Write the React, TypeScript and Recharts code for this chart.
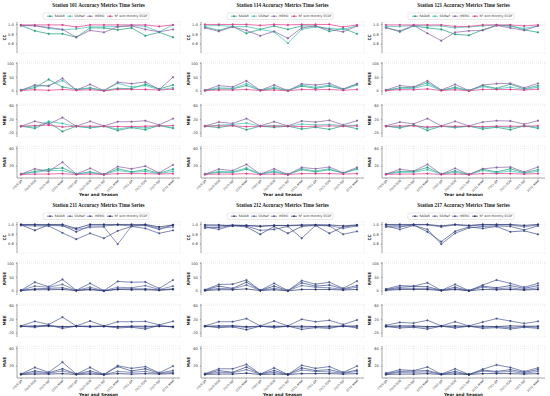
import { LineChart, Line, XAxis, YAxis, CartesianGrid } from 'recharts'

const SEASONS = [
  '2019-JJA', '2019-SON', '2020-DJF', '2020-MAM', '2020-JJA', '2020-SON',
  '2021-DJF', '2021-MAM', '2021-JJA', '2021-SON', '2022-DJF', '2022-MAM',
]
const SERIES = ['RADAR', 'GSMaP', 'IMERG', 'RF with Monthly ECDF']
const METRICS = ['CC', 'RMSE', 'MBE', 'MAE']

const TOP_COLORS = ['#1f9e7a', '#3fbfb0', '#8a63a6', '#e0368a']
const BOTTOM_COLORS = ['#3a4a86', '#5d6ca3', '#4b5894', '#27306a']

// series order in every block: RADAR, GSMaP, IMERG, RF
const S101_CC = [
  [0.98, 0.87, 0.81, 0.81, 0.74, 0.93, 0.93, 0.89, 0.93, 0.77, 0.84, 0.74],
  [0.98, 0.98, 0.92, 0.89, 0.91, 0.95, 0.95, 0.96, 0.98, 0.96, 0.85, 0.99],
  [0.98, 0.97, 0.94, 0.9, 0.74, 0.88, 0.84, 0.95, 0.97, 0.9, 0.85, 0.9],
  [0.99, 0.99, 0.99, 0.99, 0.95, 0.99, 0.99, 0.99, 0.99, 0.99, 0.96, 0.99],
]
const S101_RMSE = [
  [4, 12, 42, 15, 6, 12, 2, 10, 9, 25, 8, 22],
  [3, 18, 20, 38, 5, 10, 2, 28, 15, 20, 5, 12],
  [3, 22, 18, 46, 4, 24, 2, 32, 27, 33, 6, 50],
  [2, 5, 3, 6, 3, 5, 1, 6, 6, 6, 4, 7],
]
const S101_MBE = [
  [0, -6, 11, -15, 0, -5, 0, -12, -4, -10, 2, -6],
  [0, -2, 14, 8, -1, -3, 0, -8, -2, -5, 3, -4],
  [0, 14, 6, 25, 0, 14, 1, 13, 13, 16, 4, 22],
  [0, 2, 3, -2, 0, 0, 0, -1, -1, 0, 1, 2],
]
const S101_MAE = [
  [2, 8, 13, 16, 2, 7, 1, 14, 7, 12, 4, 13],
  [2, 6, 10, 10, 2, 5, 1, 10, 6, 8, 3, 8],
  [2, 14, 8, 29, 2, 15, 1, 19, 14, 20, 5, 23],
  [1, 2, 2, 3, 1, 2, 1, 3, 3, 3, 2, 3],
]

const S114_CC = [
  [0.95, 0.88, 0.96, 0.82, 0.9, 0.97, 0.9, 0.97, 0.97, 0.86, 0.92, 0.81],
  [0.97, 0.98, 0.96, 0.96, 0.9, 0.85, 0.62, 0.9, 0.95, 0.92, 0.9, 0.97],
  [0.93, 0.86, 0.95, 0.88, 0.77, 0.86, 0.72, 0.93, 0.97, 0.9, 0.85, 0.97],
  [1.0, 1.0, 1.0, 1.0, 0.98, 1.0, 0.99, 1.0, 1.0, 1.0, 0.95, 0.99],
]
const S114_RMSE = [
  [3, 8, 8, 20, 3, 10, 2, 18, 10, 18, 6, 24],
  [3, 12, 10, 27, 3, 14, 2, 22, 14, 22, 6, 22],
  [3, 20, 15, 37, 3, 22, 2, 26, 22, 28, 8, 27],
  [2, 4, 4, 6, 2, 4, 1, 6, 5, 6, 3, 6],
]
const S114_MBE = [
  [0, -4, 3, -10, 0, -3, 0, -8, -3, -9, 1, -7],
  [0, 3, 5, 9, 0, 2, 0, 6, 4, 5, 2, 3],
  [1, 12, 8, 22, 1, 13, 1, 15, 12, 17, 4, 16],
  [0, 1, 1, -1, 0, 0, 0, -1, 0, 1, 0, 1],
]
const S114_MAE = [
  [2, 6, 6, 13, 2, 7, 1, 12, 7, 12, 4, 14],
  [2, 8, 7, 16, 2, 9, 1, 14, 9, 14, 4, 13],
  [2, 13, 10, 24, 2, 14, 1, 17, 14, 18, 5, 17],
  [1, 2, 2, 3, 1, 2, 1, 3, 3, 3, 2, 3],
]

const S121_CC = [
  [0.94, 0.85, 0.97, 0.93, 0.9, 0.8, 0.78, 0.89, 0.98, 0.98, 0.89, 0.84],
  [0.96, 0.96, 0.98, 0.97, 0.97, 0.93, 0.95, 0.97, 0.99, 0.96, 0.92, 0.97],
  [0.93, 0.87, 0.98, 0.82, 0.67, 0.84, 0.87, 0.88, 0.98, 0.93, 0.88, 0.97],
  [0.99, 0.99, 0.99, 0.99, 0.99, 0.96, 0.96, 0.99, 0.99, 0.99, 0.97, 0.99],
]
const S121_RMSE = [
  [3, 12, 14, 30, 3, 14, 2, 20, 10, 25, 8, 20],
  [3, 8, 10, 22, 3, 10, 2, 16, 8, 14, 6, 14],
  [4, 20, 15, 37, 4, 24, 2, 22, 27, 28, 12, 28],
  [2, 5, 5, 8, 2, 5, 1, 6, 6, 6, 4, 7],
]
const S121_MBE = [
  [0, -5, 4, -12, 0, -4, 0, -8, -3, -10, 1, -6],
  [0, -2, 3, -5, 0, -2, 0, -4, -1, -4, 1, -3],
  [1, 12, 7, 22, 1, 14, 1, 12, 16, 15, 6, 16],
  [0, 1, 1, -2, 0, 0, 0, -1, 0, 0, 0, 1],
]
const S121_MAE = [
  [2, 8, 8, 17, 2, 9, 1, 13, 7, 14, 5, 12],
  [2, 6, 6, 12, 2, 6, 1, 10, 5, 9, 4, 8],
  [2, 13, 9, 24, 2, 15, 1, 14, 17, 18, 7, 18],
  [1, 2, 2, 3, 1, 2, 1, 3, 3, 3, 2, 3],
]

const S211_CC = [
  [0.99, 0.88, 0.99, 0.98, 0.85, 0.97, 0.97, 0.99, 0.97, 0.98, 0.9, 0.99],
  [0.99, 0.99, 0.98, 0.97, 0.9, 0.94, 0.95, 0.6, 0.97, 0.99, 0.92, 0.95],
  [0.98, 0.97, 0.97, 0.83, 0.7, 0.82, 0.72, 0.87, 0.96, 0.92, 0.82, 0.88],
  [1.0, 1.0, 1.0, 1.0, 0.92, 1.0, 1.0, 1.0, 1.0, 1.0, 0.95, 0.99],
]
const S211_RMSE = [
  [3, 8, 10, 12, 2, 8, 1, 8, 8, 8, 5, 8],
  [3, 18, 14, 24, 3, 14, 2, 14, 12, 20, 6, 18],
  [3, 32, 16, 42, 3, 28, 2, 35, 32, 33, 10, 40],
  [2, 5, 5, 6, 2, 5, 1, 6, 5, 5, 3, 6],
]
const S211_MBE = [
  [0, -3, 3, -6, 0, -2, 0, -5, -3, -8, 2, -3],
  [0, -1, 1, -2, 0, -1, 0, -2, -1, -3, 1, -1],
  [1, 14, 5, 26, 1, 15, 1, 13, 13, 14, 4, 14],
  [0, 1, 1, -1, 0, 0, 0, -1, 0, 0, 0, -1],
]
const S211_MAE = [
  [2, 9, 5, 14, 2, 9, 1, 19, 9, 14, 4, 10],
  [2, 5, 4, 9, 2, 5, 1, 8, 6, 8, 3, 6],
  [2, 17, 6, 29, 2, 17, 1, 21, 15, 19, 5, 20],
  [1, 2, 2, 3, 1, 2, 1, 3, 2, 3, 2, 3],
]

const S212_CC = [
  [0.93, 0.94, 0.98, 0.95, 0.8, 0.96, 0.82, 0.96, 0.98, 0.82, 0.95, 0.98],
  [0.97, 0.97, 0.99, 0.98, 0.97, 0.98, 0.97, 0.98, 0.99, 0.98, 0.92, 0.97],
  [0.95, 0.9, 0.98, 0.97, 0.88, 0.9, 0.96, 0.72, 0.98, 0.97, 0.8, 0.86],
  [0.99, 0.99, 0.97, 0.98, 0.96, 0.98, 0.98, 0.99, 0.99, 0.99, 0.97, 0.99],
]
const S212_RMSE = [
  [4, 18, 10, 32, 3, 18, 2, 30, 18, 22, 8, 20],
  [3, 10, 8, 22, 3, 10, 2, 20, 14, 12, 6, 14],
  [5, 24, 25, 40, 3, 28, 2, 38, 25, 32, 10, 36],
  [2, 5, 5, 8, 2, 5, 1, 6, 6, 6, 4, 6],
]
const S212_MBE = [
  [0, -4, -2, -10, 0, -4, 0, -9, -4, -6, 1, -5],
  [0, -2, 1, -4, 0, -2, 0, -3, -2, -3, 1, -2],
  [1, 13, 13, 22, 1, 15, 1, 20, 13, 17, 5, 18],
  [0, 1, 1, -1, 0, 0, 0, 0, -1, 0, 0, 1],
]
const S212_MAE = [
  [2, 10, 6, 18, 2, 10, 1, 16, 10, 12, 5, 11],
  [2, 6, 5, 12, 2, 6, 1, 11, 8, 7, 4, 8],
  [3, 14, 14, 24, 2, 16, 1, 22, 15, 19, 6, 20],
  [1, 2, 2, 4, 1, 2, 1, 3, 3, 3, 2, 3],
]

const S217_CC = [
  [0.95, 0.95, 0.99, 0.85, 0.65, 0.86, 0.95, 0.92, 0.96, 0.85, 0.87, 0.8],
  [0.99, 0.97, 0.99, 0.99, 0.95, 0.99, 0.97, 0.99, 0.99, 0.99, 0.95, 0.99],
  [0.97, 0.9, 0.98, 0.9, 0.6, 0.82, 0.93, 0.96, 0.97, 0.96, 0.89, 0.97],
  [1.0, 1.0, 1.0, 1.0, 0.97, 1.0, 0.98, 1.0, 1.0, 1.0, 0.98, 1.0],
]
const S217_RMSE = [
  [6, 14, 17, 16, 3, 14, 2, 18, 12, 20, 10, 20],
  [4, 10, 10, 10, 3, 8, 2, 14, 8, 12, 6, 12],
  [8, 20, 18, 30, 3, 24, 2, 22, 40, 28, 14, 28],
  [3, 6, 6, 6, 2, 6, 1, 6, 5, 6, 4, 6],
]
const S217_MBE = [
  [-1, -5, -3, -8, 0, -5, 0, -6, -4, -8, -3, -6],
  [0, -2, -1, -3, 0, -2, 0, -3, -2, -4, -1, -3],
  [3, 11, 9, 17, 1, 13, 1, 12, 22, 15, 8, 14],
  [0, 1, 1, -1, 0, 1, 0, 0, -1, 1, 0, 0],
]
const S217_MAE = [
  [3, 8, 9, 10, 2, 8, 1, 11, 8, 12, 6, 12],
  [2, 6, 6, 7, 2, 5, 1, 9, 6, 8, 4, 8],
  [4, 12, 10, 18, 2, 14, 1, 13, 23, 17, 8, 16],
  [1, 2, 2, 3, 1, 2, 1, 3, 3, 3, 2, 3],
]

const STATIONS = [
  { id: '101', blocks: [S101_CC, S101_RMSE, S101_MBE, S101_MAE] },
  { id: '114', blocks: [S114_CC, S114_RMSE, S114_MBE, S114_MAE] },
  { id: '121', blocks: [S121_CC, S121_RMSE, S121_MBE, S121_MAE] },
  { id: '211', blocks: [S211_CC, S211_RMSE, S211_MBE, S211_MAE] },
  { id: '212', blocks: [S212_CC, S212_RMSE, S212_MBE, S212_MAE] },
  { id: '217', blocks: [S217_CC, S217_RMSE, S217_MBE, S217_MAE] },
]

const DOMAINS: [number, number][] = [[0.42, 1.05], [-14, 105], [-31, 64], [-7, 66]]
const TICKS = [[0.6, 0.8, 1.0], [0, 25, 50, 75, 100], [-20, 0, 20, 40, 60], [0, 20, 40, 60]]

const PANEL_W = 183
const PANEL_LEFT = [0, 184, 365]
const PANEL_TOP = [0, 200]
const FRAME_TOP = [22, 62, 104, 146]
const FRAME_H = [31, 33, 33, 32]
const AXIS_W = 17
const RIGHT = 3
const XLAB_H = 16
const SANS = 'DejaVu Sans, sans-serif'
const SERIF = 'Liberation Serif, DejaVu Serif, serif'

function SubPlot({ block, mi, colors }: { block: number[][]; mi: number; colors: string[] }) {
  const last = mi === 3
  const data = SEASONS.map((s, j) => ({ season: s, s0: block[0][j], s1: block[1][j], s2: block[2][j], s3: block[3][j] }))
  return (
    <div style={{ position: 'absolute', left: 0, top: FRAME_TOP[mi] - 1, overflow: 'visible' }}>
      <LineChart
        width={PANEL_W}
        height={FRAME_H[mi] + 2 + (last ? XLAB_H : 0)}
        data={data}
        margin={{ top: 1, right: RIGHT, bottom: 1, left: 0 }}
        style={{ overflow: 'visible' }}
      >
        <CartesianGrid stroke="#d4d4d4" strokeWidth={0.4} strokeDasharray="1 1" />
        <XAxis
          dataKey="season"
          interval={0}
          padding={{ left: 4, right: 7 }}
          height={last ? XLAB_H : 0}
          tick={last ? { fontSize: 3, angle: -45, textAnchor: 'end', fill: '#333', fontFamily: SANS } : false}
          tickSize={1}
          tickMargin={0.5}
          tickLine={{ stroke: '#444', strokeWidth: 0.4 }}
          axisLine={{ stroke: '#555', strokeWidth: 0.5 }}
        />
        <XAxis xAxisId="top" dataKey="season" orientation="top" height={0} tick={false} axisLine={{ stroke: '#555', strokeWidth: 0.5 }} />
        <YAxis
          width={AXIS_W}
          domain={DOMAINS[mi]}
          ticks={TICKS[mi]}
          type="number"
          allowDataOverflow
          tickFormatter={(v: number) => (mi === 0 ? v.toFixed(1) : String(v))}
          tick={{ fontSize: 3.6, fill: '#333', fontFamily: SANS }}
          tickSize={1.2}
          tickLine={{ stroke: '#444', strokeWidth: 0.4 }}
          axisLine={{ stroke: '#555', strokeWidth: 0.5 }}
        />
        <YAxis yAxisId="right" orientation="right" width={0} tick={false} axisLine={{ stroke: '#555', strokeWidth: 0.5 }} />
        {SERIES.map((name, k) => (
          <Line
            key={name}
            dataKey={`s${k}`}
            name={name}
            stroke={colors[k]}
            strokeWidth={0.7}
            dot={{ r: 0.9, fill: colors[k], stroke: colors[k], strokeWidth: 0.3 }}
            isAnimationActive={false}
          />
        ))}
      </LineChart>
    </div>
  )
}

function Panel({ st, idx }: { st: (typeof STATIONS)[number]; idx: number }) {
  const row = idx < 3 ? 0 : 1
  const colors = row === 0 ? TOP_COLORS : BOTTOM_COLORS
  const plotMid = (AXIS_W + PANEL_W - RIGHT) / 2
  const legendX = 43
  const legendW = 106
  const itemX = [legendX + 4, legendX + 24, legendX + 44, legendX + 64]
  return (
    <div style={{ position: 'absolute', left: PANEL_LEFT[idx % 3], top: PANEL_TOP[row], width: PANEL_W, height: 198 }}>
      {st.blocks.map((b, mi) => (
        <SubPlot key={mi} block={b} mi={mi} colors={colors} />
      ))}
      <svg width={PANEL_W} height={198} style={{ position: 'absolute', left: 0, top: 0, pointerEvents: 'none' }}>
        <text x={plotMid} y={7} textAnchor="middle" fontSize={5.2} fontWeight="bold" fontFamily={SERIF} fill="#222">
          {`Station ${st.id} Accuracy Metrics Time Series`}
        </text>
        <rect x={legendX} y={13} width={legendW} height={6.5} fill="#fff" stroke="#c8c8c8" strokeWidth={0.4} rx={0.8} />
        {SERIES.map((name, k) => (
          <g key={name}>
            <line x1={itemX[k]} x2={itemX[k] + 6} y1={16.2} y2={16.2} stroke={colors[k]} strokeWidth={0.7} />
            <circle cx={itemX[k] + 3} cy={16.2} r={0.9} fill={colors[k]} />
            <text x={itemX[k] + 7.5} y={17.3} fontSize={3} fontFamily={SANS} fill="#333">{name}</text>
          </g>
        ))}
        {METRICS.map((m, mi) => (
          <text
            key={m}
            transform={`translate(5.5, ${FRAME_TOP[mi] + FRAME_H[mi] / 2}) rotate(-90)`}
            textAnchor="middle"
            fontSize={4.2}
            fontWeight="bold"
            fontFamily={SANS}
            fill="#222"
          >
            {m}
          </text>
        ))}
        <text x={plotMid} y={195.5} textAnchor="middle" fontSize={4.2} fontWeight="bold" fontFamily={SANS} fill="#222">
          Year and Season
        </text>
      </svg>
    </div>
  )
}

export default function App() {
  return (
    <div style={{ position: 'absolute', left: 0, top: 0, width: 550, height: 396, background: '#fff', overflow: 'hidden' }}>
      {STATIONS.map((st, i) => (
        <Panel key={st.id} st={st} idx={i} />
      ))}
    </div>
  )
}
